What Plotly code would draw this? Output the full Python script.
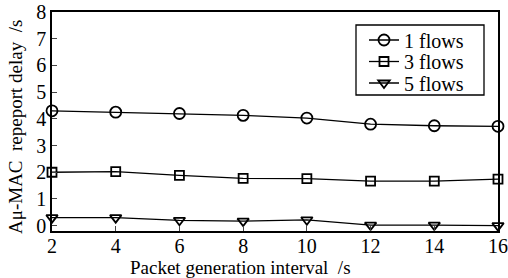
import plotly.graph_objects as go

intervals = [2, 4, 6, 8, 10, 12, 14, 16]
flows1 = [4.3, 4.25, 4.2, 4.13, 4.03, 3.8, 3.74, 3.72]
flows3 = [2.0, 2.02, 1.88, 1.77, 1.76, 1.67, 1.67, 1.74]
flows5 = [0.3, 0.3, 0.2, 0.17, 0.22, 0.02, 0.02, 0.0]
names = ["1 flows", "3 flows", "5 flows"]
symbols = ["circle-open", "square-open", "triangle-down-open"]
sizes = [11, 9, 10]
x_title = "Packet generation interval  /s"
y_title = "Aμ-MAC  repeport delay  /s"

FONT = "Liberation Serif"
W, H = 508, 278
L, R, T, B = 52, 10, 12, 47
pw, ph = W - L - R, H - T - B


def px(xp):
    return (xp - L) / pw


def py(yp):
    return (H - B - yp) / ph


legend_ids = ["legend", "legend2", "legend3"]
row_y = [40, 61.5, 83]

fig = go.Figure()
for name, vals, sym, sz, lid in zip(names, [flows1, flows3, flows5], symbols, sizes, legend_ids):
    fig.add_trace(go.Scatter(
        x=intervals, y=vals, name=name, mode="lines+markers",
        line=dict(color="black", width=1.3),
        marker=dict(symbol=sym, size=sz, color="black", line=dict(width=1.8, color="black")),
        cliponaxis=False, legend=lid,
    ))

leg_common = dict(xanchor="left", yanchor="middle", bgcolor="rgba(0,0,0,0)",
                  borderwidth=0, font=dict(family=FONT, size=20), itemwidth=30)
layout_legends = {}
for lid, ry in zip(legend_ids, row_y):
    layout_legends[lid] = dict(x=px(364), y=py(ry), **leg_common)

fig.update_layout(
    width=W, height=H,
    margin=dict(l=L, r=R, t=T, b=B),
    paper_bgcolor="white", plot_bgcolor="white",
    font=dict(family=FONT, size=18, color="black"),
    showlegend=True,
    shapes=[dict(type="rect", xref="paper", yref="paper",
                 x0=px(356), x1=px(484), y0=py(95), y1=py(25),
                 line=dict(color="black", width=1.3), fillcolor="white", layer="below")],
    annotations=[
        dict(text=x_title, xref="paper", yref="paper",
             x=px(240), y=py(267), xanchor="center", yanchor="middle",
             showarrow=False, font=dict(family=FONT, size=19)),
        dict(text=y_title, xref="paper", yref="paper", textangle=-90,
             x=px(15), y=py(127), xanchor="center", yanchor="middle",
             showarrow=False, font=dict(family=FONT, size=19)),
    ],
    **layout_legends,
)
fig.update_xaxes(
    range=[2, 16], tickvals=intervals, ticks="inside", ticklen=5,
    showline=True, linecolor="black", linewidth=1.5, mirror=True,
    showgrid=False, zeroline=False, automargin=False,
    tickfont=dict(family=FONT, size=20), ticklabelstandoff=-4,
)
fig.update_yaxes(
    range=[-0.2, 8], tickvals=[0, 1, 2, 3, 4, 5, 6, 7, 8], ticks="inside", ticklen=5,
    showline=True, linecolor="black", linewidth=1.5, mirror=True,
    showgrid=False, zeroline=False, automargin=False,
    tickfont=dict(family=FONT, size=20),
)
fig.write_html("out.html", config={"displayModeBar": False},
               post_script="document.body.style.margin='0px';")
